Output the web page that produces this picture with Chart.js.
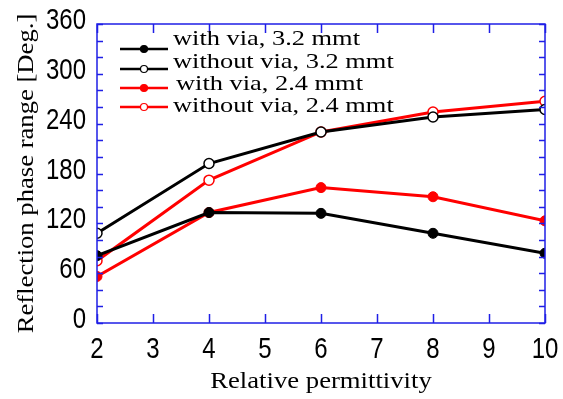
<!DOCTYPE html>
<html>
<head>
<meta charset="utf-8">
<script src="https://cdn.jsdelivr.net/npm/chart.js@4.4.1/dist/chart.umd.min.js"></script>
<style>
  html, body { margin: 0; padding: 0; background: #fff; }
  #wrap { width: 563px; height: 399px; }
</style>
</head>
<body>
<div id="wrap"><canvas id="chart"></canvas></div>
<script>
// values
const permittivity = [2, 4, 6, 8, 10];
const withVia32 = [81, 133, 132, 108, 84];
const withoutVia32 = [108, 192, 230, 248, 257];
const withVia24 = [56, 133, 163, 152, 123];
const withoutVia24 = [75, 172, 230, 254, 267];
const seriesNames = ["with via, 3.2 mmt", "without via, 3.2 mmt", "with via, 2.4 mmt", "without via, 2.4 mmt"];
const yTickLabels = [0, 60, 120, 180, 240, 300, 360];
const xTickLabels = [2, 3, 4, 5, 6, 7, 8, 9, 10];
const xTitle = "Relative permittivity";
const yTitle = "Reflection phase range [Deg.]";

const axisBlue = "#1f1fe6";
const numFont = '"Liberation Sans", Arial, sans-serif';
const serifFont = '"Liberation Serif", "Times New Roman", serif';

function toPoints(vals) {
    return permittivity.map((x, i) => ({ x: x, y: vals[i] }));
}

function makeSet(label, vals, color, open) {
    return {
        label: label,
        data: toPoints(vals),
        borderColor: color,
        backgroundColor: open ? "#fff" : color,
        pointBackgroundColor: open ? "#fff" : color,
        pointBorderColor: color,
        pointBorderWidth: open ? 1.5 : 1,
        pointRadius: 5,
        borderWidth: 3,
        fill: false,
        tension: 0,
        open: open,
    };
}

// text squeezed or stretched sideways, like the original figure's fonts
function drawText(ctx, text, x, y, sx, align, rot) {
    ctx.save();
    ctx.translate(x, y);
    if (rot) ctx.rotate(rot);
    ctx.scale(sx, 1);
    ctx.textAlign = align;
    ctx.textBaseline = "alphabetic";
    ctx.fillText(text, 0, 0);
    ctx.restore();
}

// frame with inward ticks, tick labels and titles, all placed by the scales
const frameTicks = {
    id: "frameTicks",
    afterDraw(chart) {
        const ctx = chart.ctx;
        const a = chart.chartArea;
        const xs = chart.scales.x;
        const ys = chart.scales.y;
        ctx.save();
        ctx.strokeStyle = axisBlue;
        ctx.lineWidth = 1.5;
        ctx.strokeRect(a.left, a.top, a.right - a.left, a.bottom - a.top);
        ctx.beginPath();
        for (let v = 0; v <= 360; v += 20) {
            const py = Math.round(ys.getPixelForValue(v)) + 0.5;
            ctx.moveTo(a.left, py); ctx.lineTo(a.left + 6, py);
            ctx.moveTo(a.right, py); ctx.lineTo(a.right - 6, py);
        }
        for (let v = 2; v <= 10; v += 1) {
            const px = Math.round(xs.getPixelForValue(v)) + 0.5;
            ctx.moveTo(px, a.bottom); ctx.lineTo(px, a.bottom - 9);
            ctx.moveTo(px, a.top); ctx.lineTo(px, a.top + 9);
        }
        ctx.stroke();

        ctx.fillStyle = "#000";
        ctx.font = "30px " + numFont;
        yTickLabels.forEach(v => {
            drawText(ctx, String(v), a.left - 11, ys.getPixelForValue(v) + 5, 0.8, "right");
        });
        xTickLabels.forEach(v => {
            drawText(ctx, String(v), xs.getPixelForValue(v), a.bottom + 35, 0.8, "center");
        });

        ctx.font = "23px " + serifFont;
        drawText(ctx, xTitle, (a.left + a.right) / 2, a.bottom + 65, 1.16, "center");
        ctx.font = "24px " + serifFont;
        drawText(ctx, yTitle, 33, (a.top + a.bottom) / 2, 1.11, "center", -Math.PI / 2);
        ctx.restore();
    }
};

// legend: short line with marker, name beside it
const sideLegend = {
    id: "sideLegend",
    afterDraw(chart) {
        const ctx = chart.ctx;
        const lineY = [49, 69, 88, 107];
        const textY = [45, 68, 90, 112];
        const textX = [173, 173, 176, 173];
        ctx.save();
        chart.data.datasets.forEach((ds, i) => {
            const y = lineY[i];
            ctx.strokeStyle = ds.borderColor;
            ctx.lineWidth = 2.5;
            ctx.beginPath();
            ctx.moveTo(120, y); ctx.lineTo(168, y);
            ctx.stroke();
            ctx.beginPath();
            ctx.arc(144, y, 3.5, 0, Math.PI * 2);
            ctx.fillStyle = ds.open ? "#fff" : ds.borderColor;
            ctx.fill();
            ctx.lineWidth = 1.2;
            ctx.stroke();
            ctx.fillStyle = "#000";
            ctx.font = "22px " + serifFont;
            drawText(ctx, ds.label, textX[i], textY[i], 1.2, "left");
        });
        ctx.restore();
    }
};

new Chart(document.getElementById("chart"), {
    type: "line",
    data: {
        datasets: [
            makeSet(seriesNames[0], withVia32, "#000", false),
            makeSet(seriesNames[1], withoutVia32, "#000", true),
            makeSet(seriesNames[2], withVia24, "#ff0000", false),
            makeSet(seriesNames[3], withoutVia24, "#ff0000", true),
        ],
    },
    options: {
        responsive: true,
        maintainAspectRatio: false,
        animation: false,
        layout: { padding: { top: 24, right: 18, left: 0, bottom: 0 } },
        plugins: { legend: { display: false }, tooltip: { enabled: false } },
        scales: {
            x: {
                type: "linear",
                min: 2,
                max: 10,
                afterBuildTicks(scale) { scale.ticks = xTickLabels.map(v => ({ value: v })); },
                afterFit(scale) { scale.height = 76; },
                grid: { display: false },
                border: { display: false },
                ticks: { display: false },
            },
            y: {
                min: 0,
                max: 360,
                afterBuildTicks(scale) { scale.ticks = yTickLabels.map(v => ({ value: v })); },
                afterFit(scale) { scale.width = 97; },
                grid: { display: false },
                border: { display: false },
                ticks: { display: false },
            },
        },
    },
    plugins: [frameTicks, sideLegend],
});
</script>
</body>
</html>
